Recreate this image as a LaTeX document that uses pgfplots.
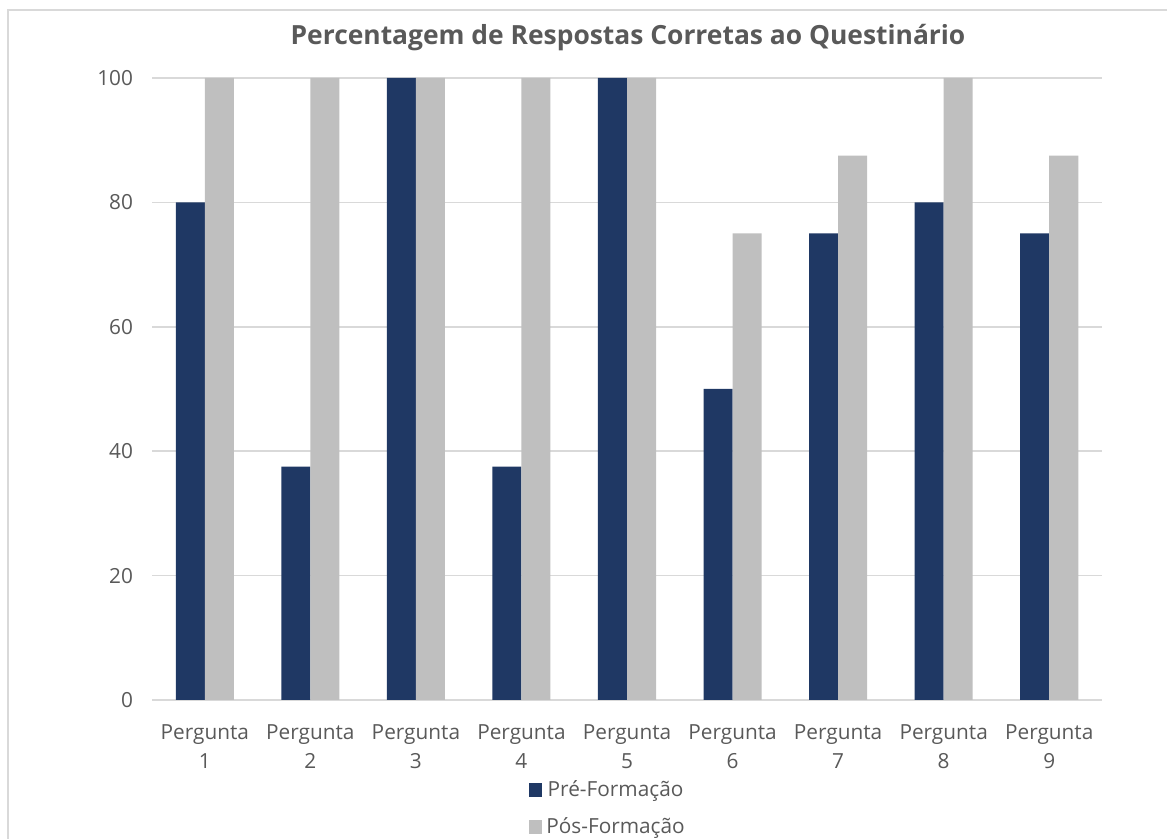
\documentclass[border=0pt]{standalone}
\usepackage{pgfplots}
\pgfplotsset{compat=1.18}
\usepackage{fontspec}
\setmainfont{Open Sans}
\definecolor{pre}{HTML}{1F3864}
\definecolor{pos}{HTML}{BFBFBF}
\definecolor{txt}{HTML}{595959}
\definecolor{grd}{HTML}{D9D9D9}
\begin{document}
\begin{tikzpicture}[x=1pt,y=1pt]
\path[use as bounding box] (0,0) rectangle (583.5,419.5);
\draw[grd, line width=1.2pt] (4,0) -- (4,414.5) -- (583.5,414.5);
\node[font=\fontsize{13.2}{15}\selectfont\bfseries, text=txt] at (314,400.5) {Percentagem de Respostas Corretas ao Questinário};
\begin{axis}[
  at={(76pt,69.5pt)}, anchor=south west,
  width=475pt, height=311pt, scale only axis,
  xmin=-0.5, xmax=8.5, ymin=0, ymax=100,
  ytick={0,20,40,60,80,100},
  xtick={0,...,8},
  xticklabels={{Pergunta\\1},{Pergunta\\2},{Pergunta\\3},{Pergunta\\4},{Pergunta\\5},{Pergunta\\6},{Pergunta\\7},{Pergunta\\8},{Pergunta\\9}},
  xticklabel style={align=center, text=txt, font=\fontsize{10.4}{14.5}\selectfont, yshift=-9pt},
  yticklabel style={text=txt, font=\fontsize{10.4}{11}\selectfont, xshift=-6pt},
  /pgf/number format/assume math mode=true,
  major tick length=0pt,
  ymajorgrids, grid style={grd, line width=0.8pt},
  axis x line*=bottom, axis y line*=left,
  x axis line style={grd, line width=0.8pt, -},
  y axis line style={draw=none},
  ybar, bar width=0.275,
  legend style={at={(0.481,-0.116)}, anchor=north, draw=none, fill=none,
    legend columns=1, font=\fontsize{10.4}{11}\selectfont, text=txt,
    row sep=5pt, /tikz/every even column/.append style={column sep=2pt}},
  legend image code/.code={\fill[#1] (0pt,-3.3pt) rectangle (6.6pt,3.3pt);},
]
\addplot[fill=pre, draw=none, bar shift=-0.1375] coordinates {(0,80) (1,37.5) (2,100) (3,37.5) (4,100) (5,50) (6,75) (7,80) (8,75)};
\addplot[fill=pos, draw=none, bar shift=0.1375] coordinates {(0,100) (1,100) (2,100) (3,100) (4,100) (5,75) (6,87.5) (7,100) (8,87.5)};
\legend{Pré-Formação, Pós-Formação}
\end{axis}
\end{tikzpicture}
\end{document}
